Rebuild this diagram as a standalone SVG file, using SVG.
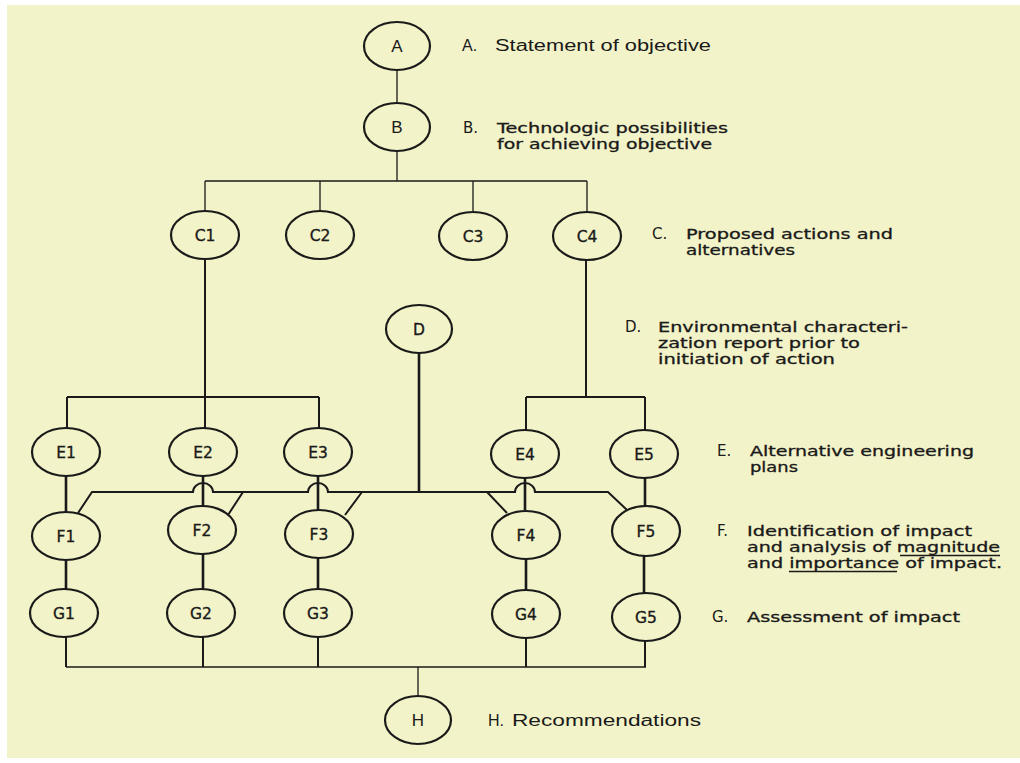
<svg xmlns="http://www.w3.org/2000/svg" width="1020" height="763" viewBox="0 0 1020 763">
<style>
.n{fill:none;stroke:#1a1a1a;stroke-width:2.2}
.nl{font-family:"DejaVu Sans",sans-serif;font-size:15.5px;fill:#1a1a1a;stroke:#1a1a1a;stroke-width:0.35;text-anchor:middle}
.nc{font-family:"Liberation Sans",sans-serif;font-size:17px;fill:#1a1a1a;text-anchor:middle}
.t{font-family:"DejaVu Sans",sans-serif;font-size:13.5px;fill:#1a1a1a;stroke:#1a1a1a;stroke-width:0.3}
.k{font-family:"DejaVu Sans",sans-serif;font-size:15px;fill:#1a1a1a}
.tc{font-family:"Liberation Sans",sans-serif;font-size:16px;fill:#1a1a1a}
.thin{fill:none;stroke:#1a1a1a;stroke-width:1.3}
.med{fill:none;stroke:#1a1a1a;stroke-width:2}
.thick{fill:none;stroke:#1a1a1a;stroke-width:2.6}
</style>
<rect x="0" y="0" width="1020" height="763" fill="#ffffff"/>
<rect x="7" y="5" width="1013" height="753" fill="#f3f3c9"/>
<g id="connectors">
<path class="thin" d="M397,70V103M397,151V181M205,181H587M205,181V211M320,181V211M473,181V211M587,181V212"/>
<path class="med" d="M205,258V428M67,397H319M67,397V428M319,397V428"/>
<path class="med" d="M586,260V397M526,397H645M526,397V430M645,397V430"/>
<path class="thick" d="M419,353V492"/>
<path class="med" d="M78,513L92,492H193A10,9 0 0 1 213,492H308A10,9 0 0 1 328,492H515A10,9 0 0 1 535,492H608L627,510M243,492L228,515M362,492L345,515M487,492L507,513"/>
<path class="thick" d="M66,476V512M203,476V506M318,476V510M525,478V510M645,478V506"/>
<path class="thick" d="M66,560V589M203,554V589M318,558V589M526,559V590M644,556V593"/>
<path class="med" d="M66,637V667M203,637V667M318,637V667M526,638V667M645,641V667"/>
<path class="thin" d="M66,667H646M418,667V696"/>
</g>
<g id="A"><ellipse class="n" cx="397" cy="46" rx="33" ry="24"/><text class="nc" x="397" y="52">A</text></g>
<g id="B"><ellipse class="n" cx="397" cy="127" rx="33" ry="24"/><text class="nc" x="397" y="133">B</text></g>
<g id="C1"><ellipse class="n" cx="205" cy="235" rx="34" ry="24"/><text class="nl" x="205" y="241">C1</text></g>
<g id="C2"><ellipse class="n" cx="320" cy="235" rx="34" ry="24"/><text class="nl" x="320" y="241">C2</text></g>
<g id="C3"><ellipse class="n" cx="473" cy="236" rx="34" ry="24"/><text class="nl" x="473" y="242">C3</text></g>
<g id="C4"><ellipse class="n" cx="587" cy="236" rx="34" ry="24"/><text class="nl" x="587" y="242">C4</text></g>
<g id="D"><ellipse class="n" cx="419" cy="329" rx="33" ry="24"/><text class="nl" x="419" y="335">D</text></g>
<g id="E1"><ellipse class="n" cx="66" cy="452" rx="34" ry="24"/><text class="nl" x="66" y="458">E1</text></g>
<g id="E2"><ellipse class="n" cx="203" cy="452" rx="34" ry="24"/><text class="nl" x="203" y="458">E2</text></g>
<g id="E3"><ellipse class="n" cx="318" cy="452" rx="34" ry="24"/><text class="nl" x="318" y="458">E3</text></g>
<g id="E4"><ellipse class="n" cx="525" cy="454" rx="34" ry="24"/><text class="nl" x="525" y="460">E4</text></g>
<g id="E5"><ellipse class="n" cx="644" cy="454" rx="34" ry="24"/><text class="nl" x="644" y="460">E5</text></g>
<g id="F1"><ellipse class="n" cx="66" cy="536" rx="34" ry="24"/><text class="nl" x="66" y="542">F1</text></g>
<g id="F2"><ellipse class="n" cx="202" cy="530" rx="34" ry="24"/><text class="nl" x="202" y="536">F2</text></g>
<g id="F3"><ellipse class="n" cx="319" cy="534" rx="34" ry="24"/><text class="nl" x="319" y="540">F3</text></g>
<g id="F4"><ellipse class="n" cx="526" cy="535" rx="34" ry="24"/><text class="nl" x="526" y="541">F4</text></g>
<g id="F5"><ellipse class="n" cx="646" cy="531" rx="34" ry="25"/><text class="nl" x="646" y="537">F5</text></g>
<g id="G1"><ellipse class="n" cx="64" cy="613" rx="34" ry="24"/><text class="nl" x="64" y="619">G1</text></g>
<g id="G2"><ellipse class="n" cx="201" cy="613" rx="34" ry="24"/><text class="nl" x="201" y="619">G2</text></g>
<g id="G3"><ellipse class="n" cx="318" cy="613" rx="34" ry="24"/><text class="nl" x="318" y="619">G3</text></g>
<g id="G4"><ellipse class="n" cx="526" cy="614" rx="34" ry="24"/><text class="nl" x="526" y="620">G4</text></g>
<g id="G5"><ellipse class="n" cx="646" cy="617" rx="34" ry="24"/><text class="nl" x="646" y="623">G5</text></g>
<g id="H"><ellipse class="n" cx="418" cy="720" rx="33" ry="24"/><text class="nc" x="418" y="726">H</text></g>
<g id="labels">
<text class="tc" x="462" y="51">A.</text>
<text class="tc" x="495" y="51" textLength="216" lengthAdjust="spacingAndGlyphs">Statement of objective</text>
<text class="k" x="463" y="133">B.</text>
<text class="t" x="497" y="133" textLength="231" lengthAdjust="spacingAndGlyphs">Technologic possibilities</text>
<text class="t" x="497" y="149" textLength="215" lengthAdjust="spacingAndGlyphs">for achieving objective</text>
<text class="k" x="652" y="239">C.</text>
<text class="t" x="686" y="239" textLength="207" lengthAdjust="spacingAndGlyphs">Proposed actions and</text>
<text class="t" x="686" y="255" textLength="109" lengthAdjust="spacingAndGlyphs">alternatives</text>
<text class="k" x="625" y="332">D.</text>
<text class="t" x="658" y="332" textLength="250" lengthAdjust="spacingAndGlyphs">Environmental characteri-</text>
<text class="t" x="658" y="348" textLength="202" lengthAdjust="spacingAndGlyphs">zation report prior to</text>
<text class="t" x="658" y="364" textLength="177" lengthAdjust="spacingAndGlyphs">initiation of action</text>
<text class="k" x="717" y="456">E.</text>
<text class="t" x="750" y="456" textLength="224" lengthAdjust="spacingAndGlyphs">Alternative engineering</text>
<text class="t" x="750" y="472" textLength="48" lengthAdjust="spacingAndGlyphs">plans</text>
<text class="k" x="717" y="536">F.</text>
<text class="t" x="747" y="536" textLength="225" lengthAdjust="spacingAndGlyphs">Identification of impact</text>
<text class="t" x="747" y="552" textLength="253" lengthAdjust="spacingAndGlyphs">and analysis of magnitude</text>
<text class="t" x="747" y="568" textLength="255" lengthAdjust="spacingAndGlyphs">and importance of impact.</text>
<path class="thin" d="M900,555.5H1000M789,571.5H897"/>
<text class="k" x="712" y="622">G.</text>
<text class="t" x="747" y="622" textLength="213" lengthAdjust="spacingAndGlyphs">Assessment of impact</text>
<text class="tc" x="488" y="726">H.</text>
<text class="tc" x="512" y="726" textLength="189" lengthAdjust="spacingAndGlyphs">Recommendations</text>
</g>
</svg>
